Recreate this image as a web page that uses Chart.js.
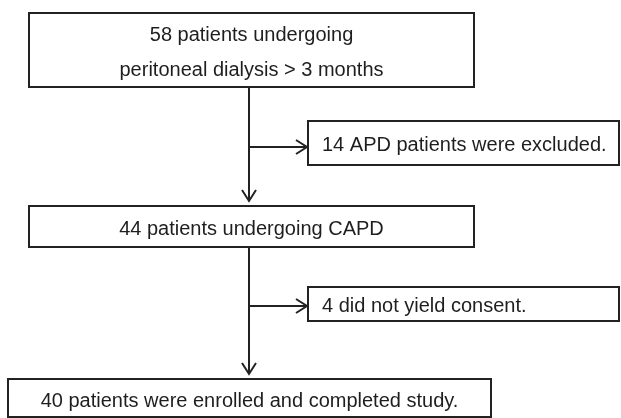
<!DOCTYPE html>
<html lang="en">
<head>
    <meta charset="UTF-8">
    <title>Flow of patients</title>
    <script src="https://cdn.jsdelivr.net/npm/chart.js"></script>
    <style>
        html, body { margin: 0; padding: 0; background: #fff; }
        #wrap { width: 621px; height: 418px; }
    </style>
</head>
<body>
    <div id="wrap"><canvas id="flowChart" width="621" height="418"></canvas></div>

    <script>
        // Texto de las cajas
        var mainSteps = [
            ['58 patients undergoing', 'peritoneal dialysis > 3 months'],
            ['44 patients undergoing CAPD'],
            ['40 patients were enrolled and completed study.']
        ];
        var exclusions = [
            '14 APD patients were excluded.',
            '4 did not yield consent.'
        ];

        // Posiciones (en unidades de las escalas)
        var mainBoxes = [
            { x0: 29, y0: 13, x1: 474, y1: 87 },
            { x0: 29, y0: 206, x1: 474, y1: 247 },
            { x0: 8, y0: 379, x1: 491, y1: 417 }
        ];
        var sideBoxes = [
            { x0: 308, y0: 121, x1: 619, y1: 165, arrowY: 147 },
            { x0: 308, y0: 287, x1: 619, y1: 321, arrowY: 306 }
        ];
        var spineX = 249;
        var lineColor = '#222';
        var textColor = '#1e1e1e';
        var fontCss = '20px "Liberation Sans", Arial, sans-serif';

        function arrowHead(ctx, x, y, dir) {
            ctx.beginPath();
            if (dir === 'down') {
                ctx.moveTo(x - 7, y - 11); ctx.lineTo(x, y); ctx.lineTo(x + 7, y - 11);
            } else {
                ctx.moveTo(x - 11, y - 7); ctx.lineTo(x, y); ctx.lineTo(x - 11, y + 7);
            }
            ctx.stroke();
        }

        var flowPlugin = {
            id: 'flow',
            afterDraw: function (chart) {
                var ctx = chart.ctx;
                var sx = chart.scales.x, sy = chart.scales.y;
                var px = function (v) { return sx.getPixelForValue(v); };
                var py = function (v) { return sy.getPixelForValue(v); };

                ctx.save();
                ctx.strokeStyle = lineColor;
                ctx.lineWidth = 2;
                ctx.fillStyle = textColor;
                ctx.font = fontCss;
                ctx.textBaseline = 'middle';

                // cajas principales
                mainBoxes.forEach(function (b, i) {
                    ctx.strokeRect(px(b.x0), py(b.y0), px(b.x1) - px(b.x0), py(b.y1) - py(b.y0));
                    var lines = mainSteps[i];
                    var cx = (px(b.x0) + px(b.x1)) / 2;
                    var cy = (py(b.y0) + py(b.y1)) / 2 + 3;
                    var gap = 35;
                    ctx.textAlign = 'center';
                    lines.forEach(function (t, k) {
                        ctx.fillText(t, cx, cy + (k - (lines.length - 1) / 2) * gap);
                    });
                });

                // cajas de exclusión
                sideBoxes.forEach(function (b, i) {
                    ctx.strokeRect(px(b.x0), py(b.y0), px(b.x1) - px(b.x0), py(b.y1) - py(b.y0));
                    ctx.textAlign = 'left';
                    ctx.fillText(exclusions[i], px(b.x0) + 14, (py(b.y0) + py(b.y1)) / 2 + 2);
                });

                // flechas verticales y ramas
                for (var i = 0; i < mainBoxes.length - 1; i++) {
                    var top = mainBoxes[i].y1, bottom = mainBoxes[i + 1].y0 - 5;
                    ctx.beginPath();
                    ctx.moveTo(px(spineX), py(top));
                    ctx.lineTo(px(spineX), py(bottom));
                    ctx.stroke();
                    arrowHead(ctx, px(spineX), py(bottom), 'down');

                    var sb = sideBoxes[i];
                    ctx.beginPath();
                    ctx.moveTo(px(spineX), py(sb.arrowY));
                    ctx.lineTo(px(sb.x0) - 1, py(sb.arrowY));
                    ctx.stroke();
                    arrowHead(ctx, px(sb.x0) - 1, py(sb.arrowY), 'right');
                }
                ctx.restore();
            }
        };

        new Chart(document.getElementById('flowChart'), {
            type: 'scatter',
            data: { datasets: [] },
            options: {
                responsive: false,
                devicePixelRatio: 1,
                animation: false,
                layout: { padding: 0 },
                plugins: { legend: { display: false }, tooltip: { enabled: false } },
                scales: {
                    x: { type: 'linear', min: 0, max: 621, display: false },
                    y: { type: 'linear', min: 0, max: 418, reverse: true, display: false }
                }
            },
            plugins: [flowPlugin]
        });
    </script>
</body>
</html>
